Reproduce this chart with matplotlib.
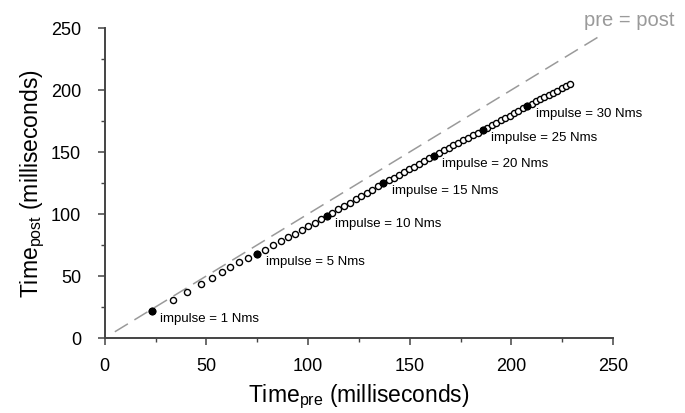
"""Time_post vs Time_pre for a range of impulses, with the pre = post reference line."""
import matplotlib
matplotlib.use("Agg")
import matplotlib.pyplot as plt
from matplotlib.ticker import MultipleLocator

plt.rcParams["font.family"] = ["Liberation Sans", "DejaVu Sans"]
plt.rcParams["mathtext.fontset"] = "custom"
plt.rcParams["mathtext.rm"] = "Liberation Sans"
plt.rcParams["mathtext.default"] = "regular"

# all simulated points (open circles)
time_pre = [23.1, 33.4, 40.3, 47.3, 52.6, 57.5, 61.8, 66.0, 70.3, 75.0,
            79.0, 82.9, 86.6, 90.2, 93.6, 96.9, 100.1, 103.2, 106.2, 109.1,
            112.0, 114.9, 117.8, 120.6, 123.4, 126.1, 128.9, 131.6, 134.3, 137.0,
            139.6, 142.2, 144.7, 147.2, 149.7, 152.2, 154.7, 157.1, 159.5, 161.9,
            164.3, 166.7, 169.1, 171.5, 173.9, 176.3, 178.7, 181.1, 183.5, 185.9,
            188.1, 190.3, 192.5, 194.7, 196.9, 199.1, 201.3, 203.5, 205.7, 207.9,
            210.0, 212.1, 214.2, 216.3, 218.4, 220.5, 222.6, 224.7, 226.9, 229.0]
time_post = [21.8, 30.6, 37.0, 43.3, 48.3, 53.2, 57.3, 61.0, 64.5, 67.8,
             71.2, 74.6, 77.9, 81.1, 84.2, 87.2, 90.0, 92.8, 95.6, 98.4,
             101.1, 103.8, 106.5, 109.1, 111.7, 114.3, 117.0, 119.6, 122.3, 125.0,
             127.2, 129.4, 131.6, 133.8, 136.0, 138.2, 140.4, 142.6, 144.8, 147.0,
             149.1, 151.2, 153.2, 155.3, 157.3, 159.4, 161.4, 163.5, 165.5, 167.5,
             169.5, 171.5, 173.4, 175.4, 177.4, 179.4, 181.4, 183.3, 185.3, 187.3,
             189.0, 190.8, 192.5, 194.3, 196.0, 197.8, 199.5, 201.3, 203.0, 204.8]

# labelled impulses (filled markers)
impulse = [1, 5, 10, 15, 20, 25, 30]
impulse_pre = [23.1, 75.0, 109.1, 137.0, 161.9, 185.9, 207.9]
impulse_post = [21.8, 67.8, 98.4, 125.0, 147.0, 167.5, 187.3]

# identity line extent
ref_line = [5, 245]

fig = plt.figure(figsize=(6.85, 4.14), dpi=100)
ax = fig.add_axes([0.1528, 0.1812, 0.7421, 0.7488])

ax.plot(ref_line, ref_line, color="#9a9a9a", lw=1.1, dashes=(10, 5), zorder=1)
ax.text(235.5, 257, "pre = post", color="#9a9a9a", fontsize=14.5,
        ha="left", va="center", clip_on=False)

ax.plot(time_pre, time_post, ls="none", marker="o", ms=4.4, mfc="white",
        mec="black", mew=1.0, zorder=2)
ax.plot(impulse_pre, impulse_post, ls="none", marker="o", ms=4.8, mfc="black",
        mec="black", zorder=3)
for imp, x, y in zip(impulse, impulse_pre, impulse_post):
    ax.annotate(f"impulse = {imp} Nms", (x, y), xytext=(6, -5),
                textcoords="offset points", fontsize=9.5, ha="left", va="center")

ax.set_xlim(0, 250)
ax.set_ylim(0, 250)
ax.xaxis.set_major_locator(MultipleLocator(50))
ax.yaxis.set_major_locator(MultipleLocator(50))
ax.xaxis.set_minor_locator(MultipleLocator(25))
ax.yaxis.set_minor_locator(MultipleLocator(25))
ax.tick_params(which="major", direction="out", length=5, width=1.1, labelsize=13,
               color="#444444")
ax.tick_params(which="minor", direction="out", length=3, width=1.0, color="#444444")
ax.tick_params(axis="x", which="major", pad=9)
ax.tick_params(axis="y", which="major", pad=12)
for s in ("top", "right"):
    ax.spines[s].set_visible(False)
for s in ("left", "bottom"):
    ax.spines[s].set_color("#444444")
    ax.spines[s].set_linewidth(1.4)

ax.set_xlabel("Time$_{pre}$ (milliseconds)", fontsize=16.5, labelpad=5)
ax.set_ylabel("Time$_{post}$ (milliseconds)", fontsize=16.5, labelpad=3)

fig.savefig("out.png", dpi=100)
